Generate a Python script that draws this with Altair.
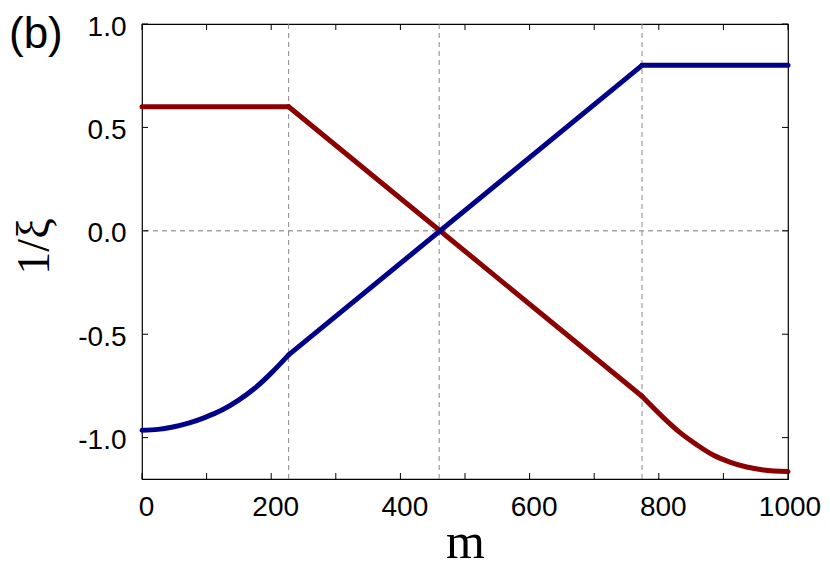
import altair as alt
import pandas as pd

# ---- data ----
blue_curve_m = [0, 25, 46, 72, 97, 123, 149, 175, 200, 227]
blue_curve_v = [-0.964, -0.960, -0.950, -0.930, -0.903, -0.868, -0.820, -0.760, -0.688, -0.600]
blue_lin_m = [227, 774]
blue_lin_v = [-0.600, 0.800]
blue_flat_m = [774, 1000]
blue_flat_v = [0.800, 0.800]

red_flat_m = [0, 227]
red_flat_v = [0.600, 0.600]
red_lin_m = [227, 774]
red_lin_v = [0.600, -0.800]
red_curve_m = [774, 807, 833, 859, 884, 910, 936, 962, 1000]
red_curve_v = [-0.800, -0.903, -0.976, -1.035, -1.084, -1.118, -1.142, -1.156, -1.164]

vlines_m = [227, 460, 774]
hline_v = [0.0]
x_tick_values = [0, 100, 200, 300, 400, 500, 600, 700, 800, 900, 1000]
x_label_values = [0, 200, 400, 600, 800, 1000]
y_tick_values = [-1.0, -0.5, 0.0, 0.5, 1.0]
panel_label = ["(b)"]

W, H = 646, 455
TL = 6  # inward tick length

def build(parts):
    rows = []
    for seg, (ms, vs) in enumerate(parts):
        for m, v in zip(ms, vs):
            rows.append({"seg": seg, "m": m, "v": v})
    return pd.DataFrame(rows)

blue_df = build([(blue_curve_m, blue_curve_v), (blue_lin_m, blue_lin_v), (blue_flat_m, blue_flat_v)])
red_df = build([(red_flat_m, red_flat_v), (red_lin_m, red_lin_v), (red_curve_m, red_curve_v)])

xscale = alt.Scale(domain=[0, 1000], nice=False, zero=False)
yscale = alt.Scale(domain=[-1.2, 1.0], nice=False, zero=False)

x_axis = alt.Axis(
    values=x_label_values, format="d", title="m", labelFlush=False,
    titleFont="Liberation Serif", titleFontSize=50, titleFontWeight="normal",
    titleColor="black", titleBaseline="alphabetic", titleY=78,
    labelPadding=14,
    labelOffset={"condition": {"test": "datum.value >= 1000", "value": 1.5}, "value": 4},
)
y_axis = alt.Axis(
    values=y_tick_values, labelFlush=False,
    labelExpr="replace(format(datum.value, '.1f'), '\u2212', '-')",
    title="1/ξ",
    titleFont="Liberation Serif", titleFontSize=46, titleFontWeight="normal",
    titleColor="black", titleBaseline="alphabetic", titleAlign="center",
    titleAngle=270, titleX=-94, titleY=222,
    labelPadding=16, labelOffset=3,
)

x_enc = alt.X("m:Q", scale=xscale, axis=x_axis)
y_enc = alt.Y("v:Q", scale=yscale, axis=y_axis)

red = alt.Chart(red_df).mark_line(
    color="#8b0000", strokeWidth=5, interpolate="monotone", strokeCap="round"
).encode(x=x_enc, y=y_enc, detail="seg:N")

blue = alt.Chart(blue_df).mark_line(
    color="#00008b", strokeWidth=5, interpolate="monotone", strokeCap="round"
).encode(x="m:Q", y="v:Q", detail="seg:N")

vl = alt.Chart(pd.DataFrame({"m": vlines_m})).mark_rule(
    color="#888888", strokeWidth=1, strokeDash=[5, 4]
).encode(x="m:Q")

hl = alt.Chart(pd.DataFrame({"v": hline_v})).mark_rule(
    color="#777777", strokeWidth=1, strokeDash=[5, 4]
).encode(y="v:Q")

xt = pd.DataFrame({"m": x_tick_values})
yt = pd.DataFrame({"v": y_tick_values})
tick_style = dict(color="black", strokeWidth=1)
t_bottom = alt.Chart(xt).mark_rule(**tick_style).encode(x="m:Q", y=alt.value(H), y2=alt.value(H - TL))
t_top = alt.Chart(xt).mark_rule(**tick_style).encode(x="m:Q", y=alt.value(0), y2=alt.value(TL))
t_left = alt.Chart(yt).mark_rule(**tick_style).encode(y="v:Q", x=alt.value(0), x2=alt.value(TL))
t_right = alt.Chart(yt).mark_rule(**tick_style).encode(y="v:Q", x=alt.value(W), x2=alt.value(W - TL))

label = alt.Chart(pd.DataFrame({"t": panel_label})).mark_text(
    align="left", baseline="alphabetic", font="Liberation Sans", fontSize=44, color="black"
).encode(x=alt.value(-133), y=alt.value(24), text="t:N")

chart = alt.layer(
    vl, hl, red, blue, t_bottom, t_top, t_left, t_right, label
).properties(
    width=W, height=H,
    autosize=alt.AutoSizeParams(type="none"),
    padding={"left": 134, "top": 16, "right": 34, "bottom": 92},
).configure_view(
    stroke="black", strokeWidth=1.2
).configure_axis(
    domain=False, ticks=False, tickSize=0, grid=False,
    labelFont="Liberation Sans", labelFontSize=28, labelColor="black",
)

chart.save("out.html", embed_options={"renderer": "svg", "actions": False})
